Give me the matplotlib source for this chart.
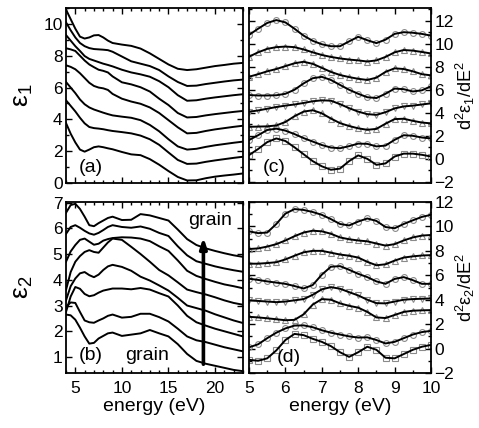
import matplotlib.pyplot as plt
from matplotlib.ticker import MultipleLocator

plt.rcParams['font.family'] = ['Liberation Sans', 'DejaVu Sans']
plt.rcParams['mathtext.fontset'] = 'custom'
plt.rcParams['mathtext.rm'] = 'Liberation Sans'
plt.rcParams['mathtext.it'] = 'Liberation Sans:italic'

# ---- data (curves listed bottom -> top, offsets included) ----
energy_wide = [4, 4.5, 5, 5.5, 6, 6.5, 7, 7.5, 8, 8.5, 9, 10, 11, 12, 13, 14,
               15, 16, 17, 18, 19, 20, 21, 22, 23]

eps1 = [
    [3.77, 3.1, 2.55, 2.1, 1.97, 2.1, 2.25, 2.3, 2.25, 2.18, 2.12, 1.95, 1.8, 1.75,
     1.5, 1.15, 0.75, 0.38, 0.16, 0.17, 0.3, 0.4, 0.47, 0.53, 0.6],
    [5.2, 4.85, 4.5, 4.1, 3.75, 3.52, 3.45, 3.42, 3.38, 3.32, 3.27, 3.2, 3.12, 2.98,
     2.75, 2.4, 1.92, 1.45, 1.2, 1.22, 1.33, 1.42, 1.5, 1.58, 1.65],
    [6.35, 6.0, 5.65, 5.25, 4.95, 4.75, 4.62, 4.52, 4.42, 4.33, 4.25, 4.17, 4.1, 3.95,
     3.65, 3.25, 2.75, 2.3, 2.1, 2.15, 2.27, 2.37, 2.45, 2.53, 2.6],
    [7.4, 7.3, 7.15, 6.9, 6.6, 6.3, 6.1, 6.0, 5.95, 5.85, 5.6, 5.3, 5.12, 4.98,
     4.75, 4.4, 3.95, 3.5, 3.12, 3.15, 3.27, 3.37, 3.45, 3.53, 3.6],
    [8.47, 8.4, 8.3, 8.0, 7.7, 7.45, 7.28, 7.12, 7.05, 6.95, 6.7, 6.33, 6.2, 6.02,
     5.75, 5.3, 4.9, 4.4, 4.12, 4.15, 4.25, 4.33, 4.4, 4.47, 4.53],
    [9.3, 8.95, 8.6, 8.3, 7.98, 7.8, 7.7, 7.6, 7.5, 7.42, 7.33, 7.12, 6.95, 6.83,
     6.68, 6.4, 6.02, 5.52, 5.17, 5.2, 5.3, 5.38, 5.45, 5.52, 5.58],
    [10.1, 9.6, 9.15, 8.8, 8.6, 8.48, 8.42, 8.4, 8.38, 8.35, 8.25, 7.95, 7.65, 7.5,
     7.35, 7.1, 6.7, 6.35, 6.1, 6.12, 6.22, 6.3, 6.38, 6.45, 6.5],
    [10.9, 10.3, 9.7, 9.2, 9.08, 9.15, 9.28, 9.3, 9.15, 8.95, 8.8, 8.7, 8.62, 8.45,
     8.15, 7.8, 7.45, 7.18, 7.1, 7.15, 7.25, 7.35, 7.42, 7.5, 7.55],
]

eps2 = [
    [2.65, 2.62, 2.45, 2.14, 1.8, 1.52, 1.55, 1.72, 1.82, 1.92, 1.95, 1.82, 1.87, 1.92,
     2.05, 1.92, 1.8, 1.5, 1.12, 0.85, 0.74, 0.66, 0.58, 0.5, 0.45],
    [2.95, 3.12, 3.1, 2.75, 2.42, 2.35, 2.33, 2.42, 2.5, 2.6, 2.65, 2.53, 2.56, 2.68,
     2.68, 2.55, 2.38, 2.1, 1.8, 1.65, 1.58, 1.48, 1.38, 1.3, 1.22],
    [2.75, 3.35, 3.72, 3.65, 3.45, 3.36, 3.4, 3.5, 3.58, 3.62, 3.66, 3.66, 3.63, 3.68,
     3.62, 3.48, 3.35, 3.0, 2.6, 2.35, 2.22, 2.1, 2.0, 1.9, 1.8],
    [3.2, 3.75, 4.05, 4.25, 4.3, 4.18, 4.1, 4.2, 4.38, 4.52, 4.58, 4.5, 4.35, 4.12,
     3.97, 3.78, 3.58, 3.3, 3.0, 2.9, 2.8, 2.66, 2.54, 2.42, 2.32],
    [3.6, 4.3, 4.7, 4.92, 5.08, 5.15, 5.08, 5.05, 5.25, 5.45, 5.6, 5.55, 5.28, 5.0,
     4.7, 4.38, 4.17, 3.9, 3.62, 3.52, 3.43, 3.32, 3.2, 3.1, 3.03],
    [4.7, 5.1, 5.35, 5.55, 5.6, 5.48, 5.36, 5.4, 5.52, 5.58, 5.62, 5.65, 5.64, 5.6,
     5.5, 5.3, 5.12, 4.75, 4.35, 4.15, 4.03, 3.92, 3.82, 3.75, 3.67],
    [5.78, 6.05, 6.12, 6.02, 5.9, 5.8, 5.75, 5.82, 5.93, 6.05, 6.12, 6.05, 6.02, 6.07,
     5.98, 5.82, 5.7, 5.3, 4.95, 4.72, 4.62, 4.52, 4.44, 4.37, 4.31],
    [6.6, 6.9, 6.95, 6.75, 6.45, 6.12, 6.08, 6.2, 6.3, 6.4, 6.45, 6.32, 6.33, 6.55,
     6.5, 6.4, 6.3, 5.95, 5.58, 5.35, 5.22, 5.12, 5.03, 4.95, 4.89],
]

energy_narrow = [5.0, 5.25, 5.5, 5.75, 6.0, 6.25, 6.5, 6.75, 7.0, 7.25, 7.5,
                 7.75, 8.0, 8.25, 8.5, 8.75, 9.0, 9.25, 9.5, 9.75, 10.0]

d2eps1 = [
    [0.32, 0.85, 1.45, 1.77, 1.55, 1.0, 0.4, -0.2, -0.65, -0.95, -0.85,
     -0.2, 0.3, 0.0, -0.52, -0.4, 0.2, 0.45, 0.45, 0.35, 0.2],
    [1.63, 2.05, 2.5, 2.62, 2.45, 2.15, 1.8, 1.5, 1.2, 0.98, 0.92,
     1.1, 1.32, 1.3, 1.08, 1.15, 1.65, 2.05, 2.0, 1.85, 1.77],
    [2.78, 2.8, 2.82, 2.9, 3.2, 3.7, 4.1, 4.22, 3.95, 3.5, 3.1,
     2.85, 2.65, 2.52, 2.6, 3.05, 3.45, 3.48, 3.3, 3.15, 3.08],
    [4.09, 4.2, 4.35, 4.5, 4.62, 4.72, 4.85, 5.0, 5.08, 5.05, 4.75,
     4.4, 4.1, 3.88, 3.82, 4.05, 4.38, 4.55, 4.62, 4.72, 4.82],
    [5.54, 5.5, 5.5, 5.52, 5.65, 6.0, 6.55, 7.0, 7.12, 6.85, 6.42,
     6.0, 5.65, 5.35, 5.28, 5.65, 6.1, 6.05, 5.85, 5.95, 6.3],
    [7.13, 7.35, 7.6, 7.8, 8.05, 8.3, 8.43, 8.25, 7.9, 7.55, 7.28,
     7.1, 6.95, 6.85, 7.05, 7.55, 7.86, 7.8, 7.6, 7.35, 7.25],
    [8.87, 9.25, 9.55, 9.7, 9.75, 9.7, 9.5, 9.25, 9.02, 8.85, 8.72,
     8.62, 8.55, 8.45, 8.55, 8.85, 9.25, 9.45, 9.4, 9.28, 9.15],
    [10.76, 11.3, 11.8, 12.05, 11.85, 11.3, 10.7, 10.25, 9.95, 9.78, 9.78,
     10.2, 10.6, 10.3, 10.05, 10.35, 10.85, 11.0, 10.95, 10.85, 10.7],
]

d2eps2 = [
    [-0.92, -1.0, -0.8, -0.15, 0.7, 1.2, 1.1, 0.8, 0.55, 0.2, -0.3,
     -0.68, -0.3, 0.15, -0.1, -0.75, -0.8, -0.45, -0.1, 0.15, 0.3],
    [0.1, 0.35, 0.85, 1.3, 1.65, 1.88, 1.9, 1.75, 1.5, 1.3, 1.15,
     1.0, 0.9, 0.92, 0.7, 0.42, 0.55, 0.85, 1.15, 1.35, 1.45],
    [2.6, 2.55, 2.48, 2.4, 2.32, 2.35, 2.8, 3.6, 4.05, 4.0, 3.7,
     3.5, 3.35, 3.0, 2.55, 2.5, 2.75, 3.0, 3.1, 3.13, 3.15],
    [3.95, 3.9, 3.85, 3.8, 3.85, 3.95, 4.05, 4.4, 4.85, 5.03, 4.9,
     4.62, 4.35, 4.0, 3.72, 3.7, 3.85, 4.0, 4.05, 4.08, 4.1],
    [5.72, 5.62, 5.5, 5.4, 5.3, 5.12, 4.92, 5.2, 6.05, 6.7, 6.75,
     6.45, 6.12, 5.85, 5.5, 5.3, 5.7, 5.85, 5.6, 5.3, 5.3],
    [6.95, 6.95, 7.0, 7.07, 7.3, 7.6, 7.88, 8.0, 8.0, 7.85, 7.7,
     7.6, 7.45, 7.1, 6.82, 6.9, 7.2, 7.45, 7.55, 7.62, 7.65],
    [8.15, 8.2, 8.35, 8.55, 8.85, 9.2, 9.5, 9.65, 9.6, 9.4, 9.1,
     8.95, 8.85, 8.78, 8.6, 8.43, 8.55, 8.85, 9.1, 9.25, 9.3],
    [9.6, 9.45, 9.5, 10.2, 11.05, 11.42, 11.35, 11.18, 10.95, 10.6, 10.2,
     10.08, 10.4, 10.65, 10.45, 9.95, 9.85, 10.2, 10.5, 10.78, 10.95],
]

markers = ['s', 'o', '^', 'v', 'o', '^', '^', 'o']

W, H = 479, 428
fig = plt.figure(figsize=(W / 100, H / 100), dpi=100)


def box(l, t, r, b):
    return [l / W, 1 - b / H, (r - l) / W, (b - t) / H]


ax_a = fig.add_axes(box(66, 8, 243, 183))
ax_b = fig.add_axes(box(66, 202, 243, 373))
ax_c = fig.add_axes(box(249, 8, 431, 183))
ax_d = fig.add_axes(box(249, 202, 431, 373))

for ax in (ax_a, ax_b, ax_c, ax_d):
    for s in ax.spines.values():
        s.set_linewidth(1.3)
    ax.tick_params(which='both', direction='in', top=True, right=True,
                   width=1.0, labelsize=12.5, pad=2.5)
    ax.tick_params(axis='x', which='both', pad=6)
    ax.tick_params(which='major', length=4.5)
    ax.tick_params(which='minor', length=2.5)

# left column: dielectric function
for ys in eps1:
    ax_a.plot(energy_wide, ys, color='black', lw=1.4)
for ys in eps2:
    ax_b.plot(energy_wide, ys, color='black', lw=1.4)

for ax in (ax_a, ax_b):
    ax.set_xlim(4, 23)
    ax.xaxis.set_major_locator(MultipleLocator(5))
    ax.xaxis.set_minor_locator(MultipleLocator(1))
ax_a.set_ylim(0, 11)
ax_a.yaxis.set_major_locator(MultipleLocator(2))
ax_a.yaxis.set_minor_locator(MultipleLocator(1))
ax_a.tick_params(labelbottom=False)
ax_b.set_ylim(0.38, 7.02)
ax_b.yaxis.set_major_locator(MultipleLocator(1))

ax_a.set_ylabel('ε$_1$', fontsize=19, labelpad=6)
ax_b.set_ylabel('ε$_2$', fontsize=19, labelpad=13)
ax_b.set_xlabel('energy (eV)', fontsize=14, labelpad=1)

ax_a.text(0.14, 0.09, '(a)', transform=ax_a.transAxes, fontsize=14,
          ha='center', va='center')
ax_b.text(0.14, 0.105, '(b)', transform=ax_b.transAxes, fontsize=14,
          ha='center', va='center')
ax_b.text(0.46, 0.105, 'grain', transform=ax_b.transAxes, fontsize=14,
          ha='center', va='center')
ax_b.text(0.815, 0.89, 'grain', transform=ax_b.transAxes, fontsize=14,
          ha='center', va='center')
ax_b.annotate('', xy=(18.75, 5.65), xytext=(18.75, 0.72),
              arrowprops=dict(arrowstyle='-|>,head_length=0.6,head_width=0.2',
                              color='black', lw=2.6, shrinkA=0, shrinkB=0))

# right column: second derivatives with fits
for ax, curves in ((ax_c, d2eps1), (ax_d, d2eps2)):
    for ys, m in zip(curves, markers):
        ax.plot(energy_narrow, ys, ls='none', marker=m, ms=4.2, mfc='none',
                mec='#8a8a8a', mew=0.8, zorder=2)
        ax.plot(energy_narrow, ys, color='black', lw=1.4, zorder=3)
    ax.set_xlim(5, 10)
    ax.xaxis.set_major_locator(MultipleLocator(1))
    ax.xaxis.set_minor_locator(MultipleLocator(0.5))
    ax.yaxis.set_major_locator(MultipleLocator(2))
    ax.yaxis.set_minor_locator(MultipleLocator(1))
    ax.tick_params(which='both', labelleft=False, labelright=True)
    ax.yaxis.set_label_position('right')

ax_c.set_ylim(-2.1, 13.1)
ax_d.set_ylim(-2.0, 12.0)
ax_c.tick_params(labelbottom=False)
ax_c.set_ylabel('d$^2$ε$_1$/dE$^2$', fontsize=13, labelpad=0)
ax_d.set_ylabel('d$^2$ε$_2$/dE$^2$', fontsize=13, labelpad=0)
ax_d.set_xlabel('energy (eV)', fontsize=14, labelpad=1)

ax_c.text(0.14, 0.09, '(c)', transform=ax_c.transAxes, fontsize=14,
          ha='center', va='center')
ax_d.text(0.22, 0.09, '(d)', transform=ax_d.transAxes, fontsize=14,
          ha='center', va='center')

fig.savefig('out.png', dpi=100)
